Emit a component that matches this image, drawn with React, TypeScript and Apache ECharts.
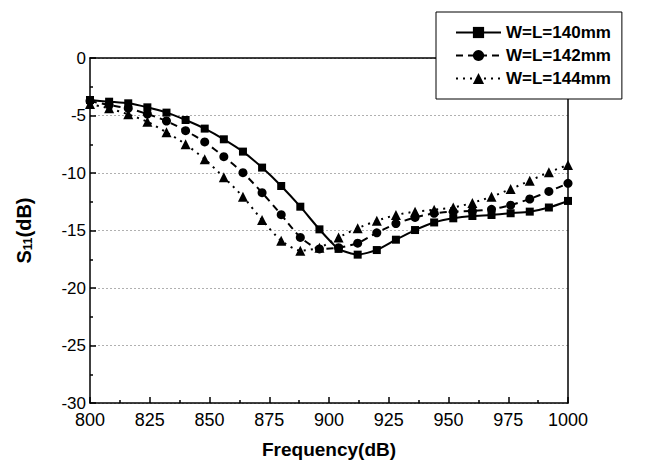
import React, { useEffect, useRef } from "react";
import * as echarts from "echarts";

const freqs = [800, 808, 816, 824, 832, 840, 848, 856, 864, 872, 880, 888, 896, 904, 912, 920, 928, 936, 944, 952, 960, 968, 976, 984, 992, 1000];
const s140 = [-3.65, -3.8, -3.94, -4.29, -4.75, -5.39, -6.14, -7.07, -8.14, -9.53, -11.13, -12.93, -14.9, -16.6, -17.1, -16.7, -15.8, -14.96, -14.3, -13.94, -13.74, -13.65, -13.5, -13.36, -13.0, -12.43];
const s142 = [-3.75, -4.09, -4.38, -4.87, -5.48, -6.32, -7.3, -8.58, -9.97, -11.71, -13.62, -15.6, -16.6, -16.5, -16.1, -15.2, -14.4, -13.86, -13.5, -13.36, -13.3, -13.16, -12.8, -12.26, -11.6, -10.9];
const s144 = [-4.0, -4.38, -4.9, -5.54, -6.46, -7.5, -8.8, -10.37, -12.06, -14.09, -15.9, -16.75, -16.5, -15.6, -14.8, -14.15, -13.65, -13.36, -13.2, -13.0, -12.6, -12.06, -11.4, -10.67, -9.94, -9.3];
const seriesNames = ["W=L=140mm", "W=L=142mm", "W=L=144mm"];

const FONT = "'Liberation Sans', Arial, sans-serif";

export default function App() {
  const ref = useRef<HTMLDivElement>(null);
  useEffect(() => {
    if (!ref.current) return;
    const chart = echarts.init(ref.current, null, { renderer: "svg" });
    const mk = (vals: number[]) => freqs.map((f, i) => [f, vals[i]]);
    const axisLineStyle = { color: "#000", width: 1.5 };
    chart.setOption({
      animation: false,
      backgroundColor: "#fff",
      grid: { left: 90, top: 58, right: 78, bottom: 65 },
      legend: {
        orient: "vertical",
        left: 436,
        top: 12,
        width: 192,
        padding: [12, 11, 12, 19],
        itemGap: 6,
        itemWidth: 45,
        itemHeight: 14,
        itemTextGap: 6,
        backgroundColor: "#fff",
        borderColor: "#000",
        borderWidth: 1,
        borderRadius: 0,
        textStyle: { fontFamily: FONT, fontWeight: "bold", fontSize: 17, color: "#000" },
        data: seriesNames,
      },
      xAxis: [
        {
          type: "value",
          min: 800,
          max: 1000,
          interval: 25,
          position: "bottom",
          axisLine: { show: true, onZero: false, lineStyle: axisLineStyle },
          axisTick: { show: true, inside: true, length: 6, lineStyle: { color: "#000", width: 1.5 } },
          minorTick: { show: true, splitNumber: 2, length: 3, lineStyle: { color: "#000", width: 1.5 } },
          axisLabel: { fontFamily: FONT, fontSize: 18, color: "#000", margin: 8, formatter: (v: number) => String(v) },
          splitLine: { show: false },
          name: "Frequency(dB)",
          nameLocation: "middle",
          nameGap: 37,
          nameTextStyle: { fontFamily: FONT, fontWeight: "bold", fontSize: 19, color: "#000" },
        },
        {
          type: "value",
          min: 800,
          max: 1000,
          interval: 25,
          position: "top",
          axisLine: { show: true, onZero: false, lineStyle: axisLineStyle },
          axisTick: { show: false },
          axisLabel: { show: false },
          splitLine: { show: false },
        },
      ],
      yAxis: [
        {
          type: "value",
          min: -30,
          max: 0,
          interval: 5,
          position: "left",
          axisLine: { show: true, onZero: false, lineStyle: axisLineStyle },
          axisTick: { show: true, inside: true, length: 6, lineStyle: { color: "#000", width: 1.5 } },
          minorTick: { show: true, splitNumber: 2, length: 3, lineStyle: { color: "#000", width: 1.5 } },
          axisLabel: { fontFamily: FONT, fontSize: 17, color: "#000", margin: 4 },
          splitLine: { show: true, lineStyle: { color: "#b0b0b0", width: 1, type: [2, 2] } },
          name: "{a|S}{sub|11}{a|(dB)}",
          nameLocation: "middle",
          nameGap: 56,
          nameRotate: 90,
          nameTextStyle: {
            rich: {
              a: { fontFamily: FONT, fontWeight: "bold", fontSize: 20, color: "#000" },
              sub: { fontFamily: FONT, fontWeight: "bold", fontSize: 12, color: "#000", verticalAlign: "bottom", padding: [8, 0, 0, 0] },
            },
          },
        },
        {
          type: "value",
          min: -30,
          max: 0,
          interval: 5,
          position: "right",
          axisLine: { show: true, onZero: false, lineStyle: axisLineStyle },
          axisTick: { show: false },
          axisLabel: { show: false },
          splitLine: { show: false },
        },
      ],
      series: [
        {
          name: seriesNames[0],
          type: "line",
          data: mk(s140),
          smooth: 0.2,
          symbol: "rect",
          symbolSize: 8,
          lineStyle: { color: "#000", width: 2, type: "solid" },
          itemStyle: { color: "#000" },
        },
        {
          name: seriesNames[1],
          type: "line",
          data: mk(s142),
          smooth: 0.2,
          symbol: "circle",
          symbolSize: 9,
          lineStyle: { color: "#000", width: 2, type: [7, 5] },
          itemStyle: { color: "#000" },
        },
        {
          name: seriesNames[2],
          type: "line",
          data: mk(s144),
          smooth: 0.2,
          symbol: "triangle",
          symbolSize: 10,
          lineStyle: { color: "#000", width: 2, type: [2, 5] },
          itemStyle: { color: "#000" },
        },
      ],
    });
    return () => chart.dispose();
  }, []);
  return <div ref={ref} style={{ width: 646, height: 468, position: "absolute", left: 0, top: 0 }} />;
}
